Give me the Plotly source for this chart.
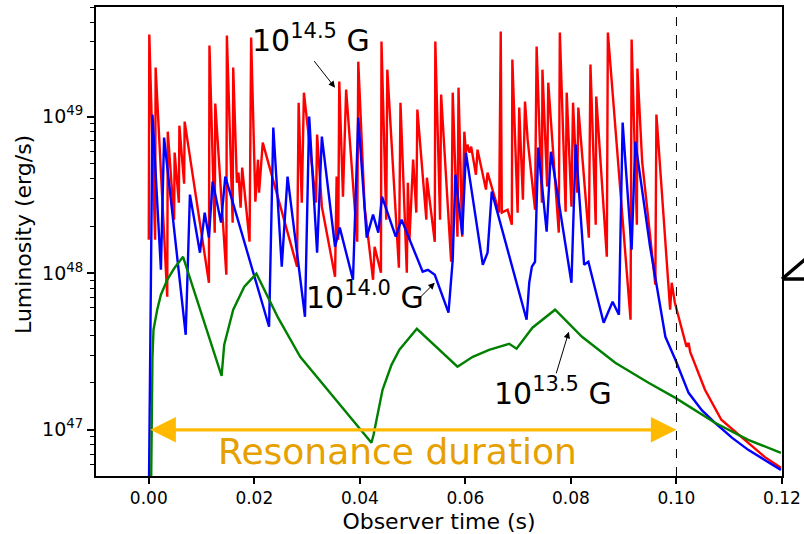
import numpy as np
import plotly.graph_objects as go

# ---- data (observer time in s, log10 luminosity in erg/s) ----
red_t = [0.0000, 0.0001, 0.0012, 0.0013, 0.0035, 0.0036, 0.0048, 0.0049, 0.0057, 0.0058,
         0.0067, 0.0068, 0.0114, 0.0115, 0.0125, 0.0126, 0.0147, 0.0148, 0.0159, 0.0160,
         0.0167, 0.0170, 0.0174, 0.0177, 0.0191, 0.0194, 0.0202, 0.0207, 0.0209, 0.0216,
         0.0281, 0.0284, 0.0290, 0.0294, 0.0317, 0.0319, 0.0328, 0.0353, 0.0356, 0.0359,
         0.0361, 0.0368, 0.0374, 0.0395, 0.0397, 0.0409, 0.0425, 0.0428, 0.0440, 0.0441,
         0.0450, 0.0452, 0.0474, 0.0477, 0.0489, 0.0491, 0.0494, 0.0501, 0.0507, 0.0509,
         0.0526, 0.0527, 0.0542, 0.0543, 0.0552, 0.0554, 0.0573, 0.0576, 0.0585, 0.0587,
         0.0594, 0.0598, 0.0601, 0.0604, 0.0608, 0.0611, 0.0620, 0.0623, 0.0639, 0.0642,
         0.0664, 0.0667, 0.0669, 0.0680, 0.0688, 0.0689, 0.0699, 0.0702, 0.0709, 0.0713,
         0.0718, 0.0732, 0.0735, 0.0745, 0.0746, 0.0755, 0.0757, 0.0777, 0.0779, 0.0790,
         0.0792, 0.0801, 0.0804, 0.0812, 0.0814, 0.0834, 0.0837, 0.0847, 0.0848, 0.0868,
         0.0870, 0.0913, 0.0915, 0.0925, 0.0926, 0.0935, 0.0960, 0.0962, 0.0988, 0.0991,
         0.0997, 0.1010, 0.1019, 0.1023, 0.1026, 0.1054, 0.1085, 0.1136, 0.1167, 0.1198]
red_logL = [48.214, 49.524, 48.214, 49.313, 47.850, 48.904, 48.342, 48.770, 48.450, 48.942,
            48.572, 48.968, 47.939, 49.454, 48.259, 49.083, 47.990, 49.518, 48.323, 49.313,
            48.578, 48.642, 48.419, 48.674, 48.201, 49.505, 48.457, 48.725, 48.514, 48.834,
            48.042, 49.089, 48.450, 49.153, 48.450, 48.885, 48.425, 47.978, 48.617, 48.214,
            49.224, 48.489, 49.173, 48.201, 49.351, 48.425, 47.958, 48.169, 48.003, 49.479,
            48.342, 49.300, 48.035, 49.089, 48.003, 48.578, 48.214, 48.725, 48.387, 49.045,
            48.342, 48.610, 48.201, 49.479, 48.342, 49.141, 48.073, 49.153, 48.233, 49.185,
            48.233, 48.904, 48.770, 48.821, 48.770, 48.808, 48.629, 48.789, 48.534, 48.642,
            48.387, 49.543, 48.387, 48.406, 48.310, 49.364, 48.387, 49.058, 48.470, 49.096,
            48.853, 48.406, 49.447, 48.450, 49.300, 48.553, 49.217, 48.259, 49.537, 48.393,
            49.153, 48.425, 49.089, 48.514, 49.058, 48.227, 49.332, 48.310, 49.128, 48.105,
            49.537, 47.703, 49.492, 48.310, 49.307, 48.712, 47.927, 49.013, 47.767, 47.939,
            47.811, 47.650, 47.530, 47.555, 47.498, 47.256, 47.064, 46.917, 46.827, 46.757]

blue_t = [0.0000, 0.0007, 0.0023, 0.0029, 0.0070, 0.0078, 0.0097, 0.0106, 0.0114, 0.0121,
          0.0137, 0.0145, 0.0228, 0.0236, 0.0252, 0.0263, 0.0296, 0.0304, 0.0319, 0.0328,
          0.0353, 0.0362, 0.0387, 0.0397, 0.0413, 0.0425, 0.0435, 0.0442, 0.0468, 0.0479,
          0.0519, 0.0529, 0.0542, 0.0568, 0.0576, 0.0581, 0.0594, 0.0601, 0.0633, 0.0642,
          0.0650, 0.0716, 0.0721, 0.0726, 0.0732, 0.0738, 0.0754, 0.0762, 0.0801, 0.0809,
          0.0825, 0.0833, 0.0862, 0.0879, 0.0891, 0.0898, 0.0915, 0.0922, 0.0950, 0.0979,
          0.0998, 0.1023, 0.1048, 0.1073, 0.1105, 0.1136, 0.1198]
blue_logL = [46.500, 49.013, 48.022, 48.866, 47.607, 48.502, 48.131, 48.387, 48.227, 48.585,
             48.323, 48.617, 47.658, 48.930, 48.042, 48.617, 47.722, 49.000, 48.131, 48.872,
             48.169, 48.291, 47.958, 48.994, 48.227, 48.374, 48.259, 48.489, 48.233, 48.342,
             48.010, 48.022, 47.990, 47.748, 48.086, 48.629, 48.246, 48.770, 48.054, 48.131,
             48.521, 47.703, 47.939, 48.042, 48.073, 48.802, 48.265, 48.776, 47.939, 48.821,
             48.054, 48.073, 47.684, 47.818, 47.735, 48.962, 48.150, 48.840, 48.169, 47.594,
             47.447, 47.236, 47.125, 47.045, 46.950, 46.872, 46.744]

green_t = [0.0004, 0.0007, 0.0009, 0.0016, 0.0023, 0.0035, 0.0049, 0.0065, 0.0138, 0.0143,
           0.0160, 0.0181, 0.0204, 0.0245, 0.0287, 0.0355, 0.0422, 0.0426, 0.0432, 0.0443,
           0.0460, 0.0475, 0.0508, 0.0585, 0.0614, 0.0645, 0.0683, 0.0697, 0.0727, 0.0770,
           0.0821, 0.0884, 0.0947, 0.0998, 0.1073, 0.1136, 0.1198]
green_logL = [46.500, 47.466, 47.639, 47.767, 47.863, 47.958, 48.035, 48.105, 47.345, 47.543,
              47.767, 47.914, 47.997, 47.716, 47.466, 47.192, 46.917, 46.968, 47.064, 47.256,
              47.415, 47.511, 47.645, 47.403, 47.466, 47.511, 47.549, 47.518, 47.652, 47.767,
              47.594, 47.428, 47.300, 47.204, 47.045, 46.936, 46.853]

series_names = ["10^14.5 G", "10^14.0 G", "10^13.5 G"]
series_colors = ["#FF0000", "#0000FF", "#008000"]

resonance_start = 0.0
resonance_end = 0.10
resonance_level_log = 47.0

x_ticks = [0.00, 0.02, 0.04, 0.06, 0.08, 0.10, 0.12]
y_ticks = [1e47, 1e48, 1e49]
y_tick_text = ["10<sup>47</sup>", "10<sup>48</sup>", "10<sup>49</sup>"]
y_minor_ticks = [m * 10.0 ** e for e in (46, 47, 48, 49) for m in range(2, 10)]

FONT = "DejaVu Sans"

fig = go.Figure()
for t, lg, name, col in zip([red_t, blue_t, green_t],
                            [red_logL, blue_logL, green_logL],
                            series_names, series_colors):
    fig.add_trace(go.Scatter(x=t, y=10 ** np.array(lg), mode="lines", name=name,
                             line=dict(color=col, width=2.4), showlegend=False))

# dashed end-of-resonance line
fig.add_shape(type="line", xref="x", yref="paper", x0=resonance_end, x1=resonance_end,
              y0=0, y1=1, line=dict(color="black", width=1, dash="dash"))

# resonance double arrow
fig.add_annotation(x=resonance_end, y=resonance_level_log, ax=resonance_start, ay=resonance_level_log,
                   xref="x", yref="y", axref="x", ayref="y", text="", showarrow=True,
                   arrowside="end+start", arrowhead=2, arrowsize=1.6, arrowwidth=3.2,
                   arrowcolor="#FFBA00")
fig.add_annotation(x=0.0472, y=46.859, xref="x", yref="y", text="Resonance duration",
                   showarrow=False, font=dict(family=FONT, size=36, color="#E6A000"))

# series labels
labels = [
    ("10<sup>14.5</sup> G", 0.0308, 49.50, 0.0353, 49.185, -22, -28),
    ("10<sup>14.0</sup> G", 0.0410, 47.86, 0.0542, 47.939, -17, 17),
    ("10<sup>13.5</sup> G", 0.0766, 47.245, 0.0796, 47.626, -13, 43),
]
for txt, tx, ty, hx, hy, ax, ay in labels:
    fig.add_annotation(x=tx, y=ty, xref="x", yref="y", text=txt, showarrow=False,
                       font=dict(family=FONT, size=30, color="black"))
    fig.add_annotation(x=hx, y=hy, xref="x", yref="y", ax=ax, ay=ay, text="",
                       showarrow=True, arrowhead=2, arrowsize=1.3, arrowwidth=1,
                       arrowcolor="black")

# y-axis title
fig.add_annotation(x=-0.105, y=0.516, xref="paper", yref="paper", text="Luminosity (erg/s)",
                   textangle=-90, showarrow=False, xanchor="center", yanchor="middle",
                   font=dict(family=FONT, size=22, color="black"))

# cut-off glyph at right edge
fig.add_shape(type="line", xref="paper", yref="paper", x0=1.0, y0=0.42, x1=1.04, y1=0.47,
              line=dict(color="black", width=3.5))
fig.add_shape(type="line", xref="paper", yref="paper", x0=1.0, y0=0.42, x1=1.04, y1=0.42,
              line=dict(color="black", width=3.5))

fig.update_layout(
    width=804, height=534,
    margin=dict(l=96, r=22, t=7, b=58, autoexpand=False),
    paper_bgcolor="white", plot_bgcolor="white",
    font=dict(family=FONT, color="black"),
)
fig.update_xaxes(range=[-0.01, 0.12], tickvals=x_ticks, tickformat=".2f",
                 ticks="outside", ticklen=6, tickwidth=1.5, tickcolor="black",
                 showline=True, linewidth=2, linecolor="black", mirror=True,
                 showgrid=False, zeroline=False, tickfont=dict(size=17),
                 title=dict(text="Observer time (s)", font=dict(size=22), standoff=7))
fig.update_yaxes(type="log", range=[46.705, 49.70], tickmode="array",
                 tickvals=y_ticks, ticktext=y_tick_text,
                 ticks="outside", ticklen=7, tickwidth=1.5, tickcolor="black",
                 minor=dict(ticks="outside", ticklen=4, tickwidth=1, tickcolor="black",
                            tickmode="array", tickvals=y_minor_ticks, showgrid=False),
                 showline=True, linewidth=2, linecolor="black", mirror=True,
                 showgrid=False, zeroline=False, tickfont=dict(size=19))

fig.write_html("out.html")
